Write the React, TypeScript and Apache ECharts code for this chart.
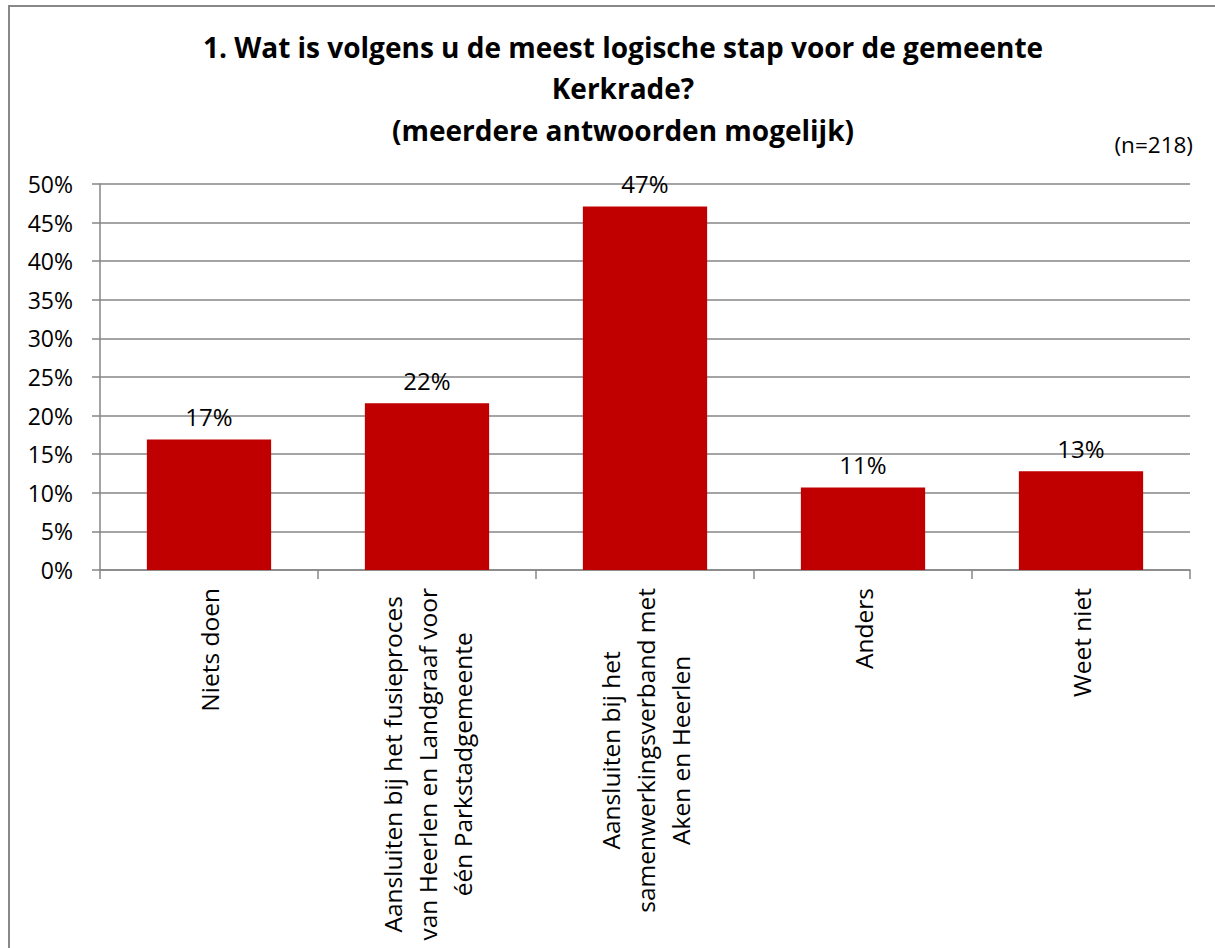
import React, { useEffect, useRef } from "react";
import * as echarts from "echarts";

const categories = [
  "Niets doen",
  "Aansluiten bij het fusieproces\nvan Heerlen en Landgraaf voor\néén Parkstadgemeente",
  "Aansluiten bij het\nsamenwerkingsverband met\nAken en Heerlen",
  "Anders",
  "Weet niet",
];
const values = [16.9, 21.6, 47.1, 10.7, 12.8];
const titleLines = [
  "1. Wat is volgens u de meest logische stap voor de gemeente",
  "Kerkrade?",
  "(meerdere antwoorden mogelijk)",
];
const note = "(n=218)";

const FONT = "'Open Sans', sans-serif";

export default function App() {
  const ref = useRef<HTMLDivElement>(null);
  useEffect(() => {
    document.body.style.margin = "0";
    const chart = echarts.init(ref.current!, undefined, { renderer: "svg" });
    chart.setOption({
      animation: false,
      backgroundColor: "#ffffff",
      textStyle: { fontFamily: FONT },
      title: {
        text: titleLines.join("\n"),
        left: 618,
        textAlign: "center",
        top: 21,
        textStyle: {
          fontFamily: FONT,
          fontWeight: "bold",
          fontSize: 28,
          lineHeight: 41.5,
          color: "#000",
        },
      },
      graphic: [
        {
          type: "rect",
          shape: { x: 9, y: 6, width: 1300, height: 1100 },
          style: { fill: "none", stroke: "#888888", lineWidth: 2 },
          silent: true,
        },
        {
          type: "text",
          x: 1193,
          y: 144,
          style: {
            text: note,
            font: `22.5px ${FONT}`,
            fill: "#000",
            align: "right",
            verticalAlign: "middle",
          },
        },
      ],
      grid: { left: 100, right: 25, top: 184, bottom: 378, containLabel: false },
      xAxis: {
        type: "category",
        data: categories,
        axisLine: { lineStyle: { color: "#868686", width: 1.5 } },
        axisTick: { show: true, length: 9, lineStyle: { color: "#868686", width: 1.5 } },
        axisLabel: {
          rotate: 90,
          margin: 18,
          interval: 0,
          formatter: (v: string) =>
            v
              .split("\n")
              .map((l) => `{c|${l}}`)
              .join("\n"),
          rich: {
            c: {
              align: "center",
              fontSize: 24.5,
              lineHeight: 35,
              fontFamily: FONT,
              color: "#000",
            },
          },
        },
      },
      yAxis: {
        type: "value",
        min: 0,
        max: 50,
        interval: 5,
        axisLine: { show: true, lineStyle: { color: "#868686", width: 1.5 } },
        axisTick: { show: true, length: 8, lineStyle: { color: "#868686", width: 1.5 } },
        splitLine: { lineStyle: { color: "#868686", width: 1.5 } },
        axisLabel: {
          margin: 27,
          fontSize: 23,
          fontFamily: FONT,
          color: "#000",
          formatter: (v: number) => `${v}%`,
        },
      },
      series: [
        {
          type: "bar",
          data: values,
          barWidth: "57%",
          itemStyle: { color: "#C00000" },
          label: {
            show: true,
            position: "top",
            distance: 11,
            fontSize: 24,
            fontFamily: FONT,
            color: "#000",
            formatter: (p: any) => `${Math.round(p.value)}%`,
          },
        },
      ],
    });
    return () => chart.dispose();
  }, []);
  return <div ref={ref} style={{ width: 1215, height: 948 }} />;
}
